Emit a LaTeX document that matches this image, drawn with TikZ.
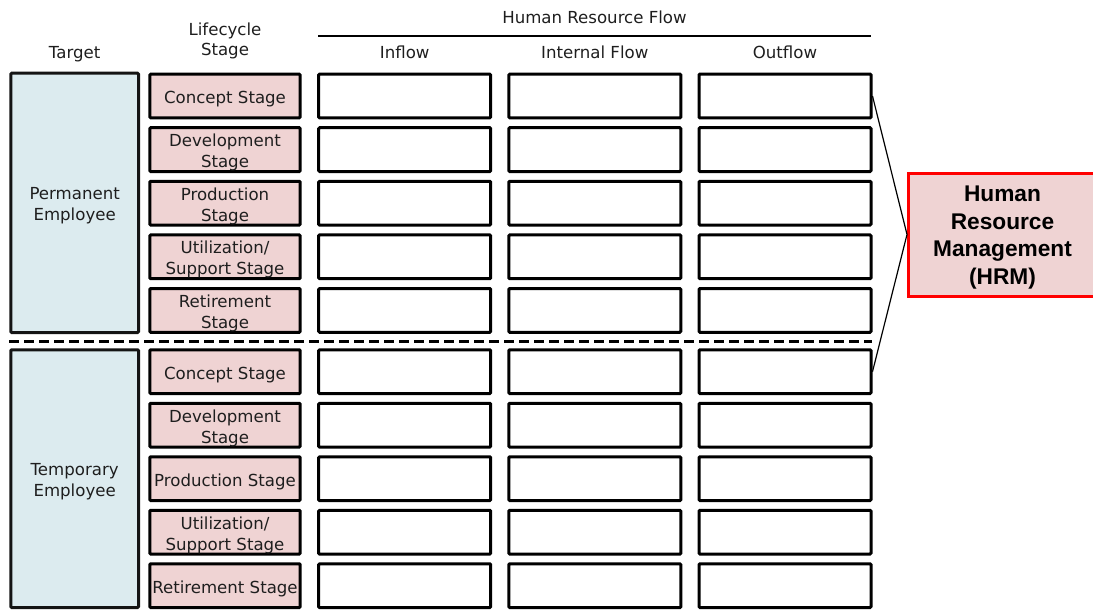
\documentclass[tikz,border=0pt]{standalone}
\usepackage{fontspec}
\setmainfont{DejaVu Sans}
\newfontfamily\hrmfont{Liberation Sans}
\definecolor{tgtblue}{HTML}{DCEBEF}
\definecolor{stagepink}{HTML}{EFD3D3}
\definecolor{hrmred}{HTML}{FF0000}
\definecolor{ink}{HTML}{1E1E1E}
\begin{document}
\begin{tikzpicture}[x=1pt,y=-1pt,
  txt/.style={font=\fontsize{16.6}{21}\selectfont, text=ink, align=center, inner sep=0pt},
  head/.style={txt, anchor=base},
  boxtext/.style={label={[txt,yshift=-3pt]center:#1}},
  targetbox/.style={draw=black!92, line width=3pt, fill=tgtblue, minimum width=127.7pt, rounded corners=1pt, inner sep=0pt},
  stagebox/.style={draw=black, line width=3pt, fill=stagepink, minimum width=150.4pt, minimum height=43.8pt, rounded corners=1pt, inner sep=0pt},
  flowbox/.style={draw=black, line width=3pt, fill=white, minimum width=172pt, minimum height=43.8pt, rounded corners=1pt, inner sep=0pt},
  hrmbox/.style={draw=hrmred, line width=3pt, fill=stagepink, minimum width=188pt, minimum height=123pt, inner sep=0pt},
  hrmtext/.style={label={[align=center, inner sep=0pt, yshift=-3pt, text=black,
    font=\hrmfont\bfseries\fontsize{22.7}{27.6}\selectfont]center:#1}},
  link/.style={draw=black, line width=1.2pt}
]
\useasboundingbox (0,0) rectangle (1093,610);

% column headings
\node[head] (hTarget) at (74.6,58.3) {Target};
\node[head] (hLife1) at (225,36) {Lifecycle};
\node[head] (hLife2) at (225,56) {Stage};
\node[head] (hFlow) at (594.5,23.3) {Human Resource Flow};
\coordinate (flowL) at (318,36);
\coordinate (flowR) at (871,36);
\draw[line width=1.2pt] (flowL) -- (flowR);
\node[head] (hIn) at (404.7,58.3) {Inflow};
\node[head] (hInt) at (594.8,58.3) {Internal Flow};
\node[head] (hOut) at (785,58.3) {Outflow};

% target groups
\node[targetbox, minimum height=259.3pt, boxtext={Permanent\\Employee}] (perm) at (74.65,202.85) {};
\node[targetbox, minimum height=257.7pt, boxtext={Temporary\\Employee}] (temp) at (74.65,478.65) {};

% separator between the two groups
\coordinate (sepL) at (9,341.7);
\coordinate (sepR) at (872,341.7);
\draw[line width=3.5pt, dash pattern=on 10pt off 5pt] (sepL) -- (sepR);

% lifecycle stages and flow cells
\foreach \i/\y/\lbl in {1/96/{Concept Stage},
                       2/149.6/{Development\\Stage},
                       3/203.2/{Production\\Stage},
                       4/256.8/{Utilization/\\Support Stage},
                       5/310.4/{Retirement\\Stage},
                       6/371.7/{Concept Stage},
                       7/425.2/{Development\\Stage},
                       8/478.7/{Production Stage},
                       9/532.2/{Utilization/\\Support Stage},
                       10/585.7/{Retirement Stage}} {
  \node[stagebox, boxtext=\lbl] (s\i) at (225,\y) {};
  \node[flowbox] (in\i) at (404.7,\y) {};
  \node[flowbox] (it\i) at (594.8,\y) {};
  \node[flowbox] (o\i) at (785,\y) {};
}

% human resource management
\node[hrmbox, hrmtext={Human\\Resource\\Management\\(HRM)}] (hrm) at (1002.5,234.5) {};
\draw[link] (o1.east) -- (hrm.west) -- (o6.east);
\end{tikzpicture}
\end{document}
